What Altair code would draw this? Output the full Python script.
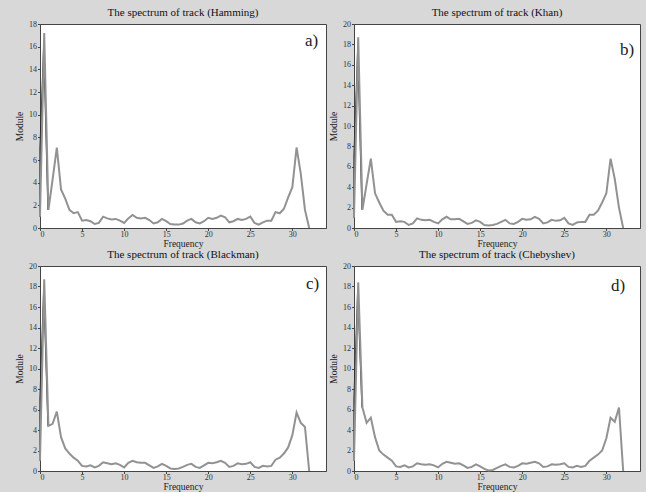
import altair as alt
import pandas as pd

freq = [i * 0.5 for i in range(65)]  # 0 .. 32 step 0.5

hamming = [1.0, 17.2, 1.6, 4.3, 7.1, 3.4, 2.6, 1.6, 1.3, 1.4,
           0.65, 0.7, 0.6, 0.35, 0.45, 1.0, 0.85, 0.75, 0.8, 0.65,
           0.45, 0.85, 1.15, 0.9, 0.85, 0.9, 0.7, 0.4, 0.5, 0.8,
           0.6, 0.35, 0.3, 0.3, 0.4, 0.65, 0.8, 0.5, 0.4, 0.6,
           0.9, 0.8, 0.9, 1.1, 0.95, 0.5, 0.6, 0.8, 0.7, 0.8,
           1.0, 0.45, 0.3, 0.5, 0.65, 0.65, 1.4, 1.3, 1.7, 2.7,
           3.6, 7.1, 4.8, 1.6, 0.0]
khan = [1.0, 18.7, 1.8, 4.3, 6.8, 3.4, 2.5, 1.7, 1.3, 1.3,
        0.6, 0.65, 0.6, 0.3, 0.45, 0.95, 0.8, 0.75, 0.8, 0.6,
        0.45, 0.85, 1.1, 0.85, 0.85, 0.9, 0.65, 0.4, 0.5, 0.75,
        0.6, 0.3, 0.25, 0.3, 0.4, 0.6, 0.8, 0.45, 0.4, 0.6,
        0.9, 0.8, 0.85, 1.1, 0.9, 0.45, 0.55, 0.8, 0.7, 0.75,
        1.0, 0.45, 0.3, 0.55, 0.6, 0.6, 1.3, 1.3, 1.7, 2.5,
        3.4, 6.8, 4.8, 2.0, 0.0]
blackman = [1.0, 18.7, 4.4, 4.6, 5.8, 3.3, 2.2, 1.7, 1.3, 1.0,
            0.5, 0.45, 0.55, 0.35, 0.5, 0.85, 0.75, 0.65, 0.75, 0.6,
            0.35, 0.8, 1.0, 0.85, 0.8, 0.8, 0.55, 0.3, 0.45, 0.7,
            0.5, 0.25, 0.2, 0.25, 0.4, 0.6, 0.7, 0.4, 0.3, 0.55,
            0.8, 0.75, 0.85, 1.0, 0.8, 0.4, 0.5, 0.75, 0.65, 0.7,
            0.85, 0.4, 0.3, 0.5, 0.45, 0.5, 1.1, 1.3, 1.7, 2.3,
            3.5, 5.7, 4.7, 4.3, 0.0]
chebyshev = [1.0, 18.4, 6.2, 4.7, 5.2, 3.3, 2.0, 1.6, 1.3, 1.0,
             0.45, 0.4, 0.55, 0.35, 0.45, 0.75, 0.65, 0.6, 0.65, 0.55,
             0.35, 0.7, 0.9, 0.8, 0.7, 0.75, 0.55, 0.3, 0.4, 0.65,
             0.45, 0.2, 0.05, 0.1, 0.3, 0.5, 0.65, 0.4, 0.35, 0.5,
             0.75, 0.7, 0.8, 0.9, 0.75, 0.4, 0.45, 0.65, 0.6, 0.65,
             0.75, 0.4, 0.35, 0.5, 0.4, 0.5, 1.0, 1.3, 1.6, 2.0,
             3.2, 5.2, 4.8, 6.2, 0.0]

# thin dark trace visible at the low-frequency spike
spike_freq = [0.0, 0.0, 0.45, 0.95]
spike_hamming = [1.0, 7.0, 16.2, 1.6]
spike_khan = [1.0, 7.0, 17.6, 1.8]
spike_blackman = [1.0, 7.0, 17.8, 4.4]
spike_chebyshev = [1.0, 7.0, 17.7, 6.2]

windows = ["Hamming", "Khan", "Blackman", "Chebyshev"]
series = [hamming, khan, blackman, chebyshev]
spikes = [spike_hamming, spike_khan, spike_blackman, spike_chebyshev]
letters = ["a)", "b)", "c)", "d)"]
ymax = [18, 20, 20, 20]
x_ticks = [0, 5, 10, 15, 20, 25, 30]

SERIF = "Liberation Serif"
W = 286
HEIGHTS = [204, 204, 205, 205]
LABEL_POS = [(265, 17), (266, 26), (266, 18), (257, 20)]


def panel(i):
    df = pd.DataFrame({"Frequency": freq, "Module": series[i]})
    sp = pd.DataFrame({"Frequency": spike_freq, "Module": spikes[i]})
    lab = pd.DataFrame({"t": [letters[i]]})
    y_ticks = list(range(0, ymax[i] + 1, 2))
    xs = alt.Scale(domain=[0, 34], nice=False, zero=False)
    ys = alt.Scale(domain=[0, ymax[i]], nice=False)

    def xa():
        return alt.Axis(values=x_ticks, title="Frequency", labelOverlap=False)

    def ya():
        return alt.Axis(values=y_ticks, title="Module", labelOverlap=False,
                        tickCount=len(y_ticks))

    dark = alt.Chart(sp).mark_line(color="#2e2e2e", strokeWidth=1.3).encode(
        x=alt.X("Frequency:Q", scale=xs, axis=xa()),
        y=alt.Y("Module:Q", scale=ys, axis=ya()),
        order=alt.Order("idx:Q"),
    ).transform_window(idx="row_number()")
    base = alt.Chart(df).mark_line(color="#929292", strokeWidth=2).encode(
        x=alt.X("Frequency:Q", scale=xs, axis=xa()),
        y=alt.Y("Module:Q", scale=ys, axis=ya()),
    )
    txt = alt.Chart(lab).mark_text(
        font=SERIF, fontSize=17, align="left", baseline="middle", color="#222222"
    ).encode(
        x=alt.value(LABEL_POS[i][0]), y=alt.value(LABEL_POS[i][1]), text="t:N"
    )
    return alt.layer(dark, base, txt).properties(
        width=W, height=HEIGHTS[i],
        title=alt.TitleParams(f"The spectrum of track ({windows[i]})"),
    )


chart = alt.concat(
    panel(0), panel(1), panel(2), panel(3),
    columns=2, spacing={"row": 38, "column": 28}, bounds="flush",
).properties(
    background="#d8d8d8",
    padding={"left": 14, "top": 6, "right": 5, "bottom": 0},
).configure_view(
    fill="white", stroke="#444444", strokeWidth=1
).configure_axis(
    grid=False,
    labelFont=SERIF, labelFontSize=8, labelColor="#333333",
    titleFont=SERIF, titleFontSize=9.5, titleColor="#222222", titleFontWeight="normal",
    tickSize=2.5, tickColor="#444444", domainColor="#444444",
).configure_axisX(titlePadding=0, labelPadding=0).configure_axisY(
    titlePadding=4, labelPadding=1
).configure_title(
    font=SERIF, fontSize=11, fontWeight="normal", color="#111111", offset=2, anchor="middle"
)

chart.save("out.html", embed_options={"renderer": "svg", "actions": False})
